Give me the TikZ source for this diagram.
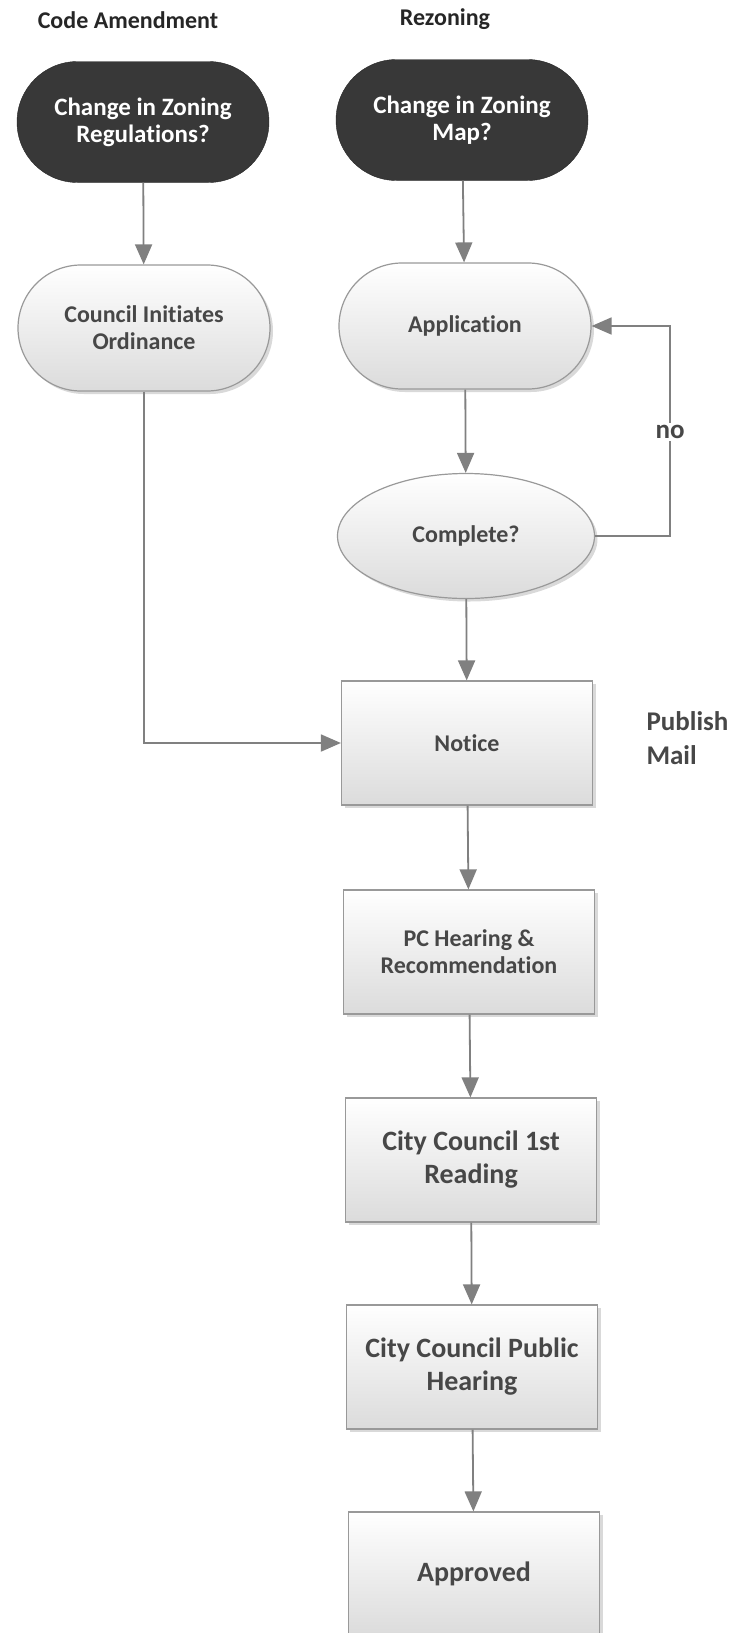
\documentclass[tikz,border=0pt]{standalone}
\usepackage{fontspec}
\setmainfont{Carlito}[RawFeature=-liga]
\usetikzlibrary{arrows.meta,shapes.misc,shapes.geometric,shadows}
\definecolor{ink}{HTML}{474747}
\definecolor{wire}{HTML}{808080}
\definecolor{night}{HTML}{383838}

\begin{document}
\begin{tikzpicture}[x=1pt, y=-1pt,
	every node/.style={font=\bfseries\fontsize{24}{27}\selectfont, align=center, text=ink},
	big/.style={font=\bfseries\fontsize{28}{33}\selectfont},
	head/.style={text=black!85},
	shade/.style={draw=black!40, line width=1.2pt, top color=white, bottom color=black!14, drop shadow={shadow xshift=3pt, shadow yshift=-3pt, opacity=0.3}},
	start/.style={rounded rectangle, draw=black!85, fill=night, text=white, minimum width=252pt, minimum height=121pt, inner sep=0pt, font=\bfseries\fontsize{25}{27}\selectfont},
	pill/.style={rounded rectangle, shade, minimum width=252pt, minimum height=126pt, inner sep=0pt},
	ask/.style={ellipse, shade, minimum width=257pt, minimum height=125pt, inner sep=0pt},
	task/.style={rectangle, shade, minimum width=251pt, minimum height=124pt, inner sep=0pt},
	link/.style={draw=wire, line width=1.8pt, -{Triangle[length=20pt, width=17pt]}}]
	\useasboundingbox (0,0) rectangle (748,1633);
	% column titles
	\node[head] (ca) at (128,20) {Code Amendment}; \node[head] (rz) at (445,19) {Rezoning};
	% code amendment side
	\node[start] (reg) at (143,122) {Change in Zoning\\Regulations?};
	\node[pill] (council) at (144,328) {Council Initiates\\Ordinance};
	% rezoning side
	\node[start] (map) at (462,120) {Change in Zoning\\Map?};
	\node[pill] (app) at (465,326) {Application};
	\node[ask] (done) at (466,536) {Complete?};
	\node[task] (notice) at (467,743) {Notice};
	\node[task] (pc) at (469,952) {PC Hearing \&\\Recommendation};
	\node[task, big] (read) at (471,1160) {City Council 1st\\Reading};
	\node[task, big] (hear) at (472,1367) {City Council Public\\Hearing};
	\node[task, big] (ok) at (474,1574) {Approved};
	\node[big, font=\bfseries\fontsize{27}{34}\selectfont, anchor=west, align=left] (pub) at (643,738) {Publish\\Mail};
	\coordinate (turn) at (670,432);
	\foreach \a/\b in {reg/council, map/app, app/done, done/notice, notice/pc, pc/read, read/hear, hear/ok} {\draw[link] (\a) -- (\b);}
	\draw[link] (council) |- (notice);
	\draw[link] (done) -| (turn) |- (app);
	\node[fill=white, inner sep=2pt, font=\bfseries\fontsize{27}{30}\selectfont] (no) at (turn) {no};
\end{tikzpicture}
\end{document}
